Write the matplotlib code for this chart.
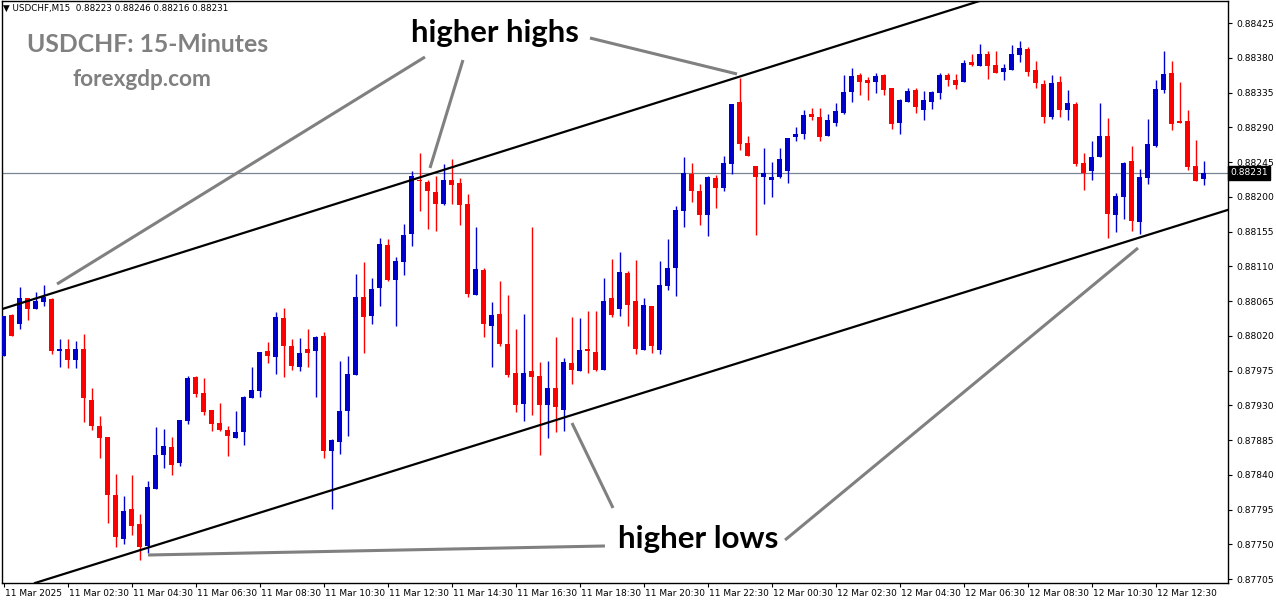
import matplotlib
matplotlib.use('Agg')
import matplotlib.pyplot as plt
import matplotlib.transforms as mtransforms

# USDCHF M15 candles
opens = [0.87994, 0.88047, 0.88035, 0.88069, 0.88055, 0.88064, 0.88068, 0.88001, 0.88003, 0.87989,
         0.88003, 0.87937, 0.87903, 0.87889, 0.87814, 0.87757, 0.87796, 0.87776, 0.87748, 0.87822,
         0.87866, 0.87876, 0.87856, 0.87910, 0.87967, 0.87946, 0.87924, 0.87907, 0.87898, 0.87888,
         0.87896, 0.87939, 0.87948, 0.88000, 0.87993, 0.88043, 0.88007, 0.87980, 0.88003, 0.88000,
         0.88020, 0.87871, 0.87882, 0.87923, 0.87970, 0.88070, 0.88046, 0.88082, 0.88138, 0.88093,
         0.88116, 0.88152, 0.88222, 0.88219, 0.88206, 0.88191, 0.88222, 0.88218, 0.88191, 0.88073,
         0.88105, 0.88033, 0.88048, 0.88010, 0.87972, 0.87932, 0.87975, 0.87968, 0.87931, 0.87952,
         0.87924, 0.87985, 0.87974, 0.88003, 0.87999, 0.87976, 0.88069, 0.88055, 0.88101, 0.88065,
         0.88002, 0.88059, 0.88002, 0.88085, 0.88108, 0.88182, 0.88230, 0.88208, 0.88177, 0.88225,
         0.88211, 0.88243, 0.88323, 0.88270, 0.88240, 0.88226, 0.88222, 0.88226, 0.88234, 0.88278,
         0.88281, 0.88307, 0.88304, 0.88279, 0.88296, 0.88309, 0.88336, 0.88358, 0.88351, 0.88349,
         0.88358, 0.88341, 0.88296, 0.88323, 0.88339, 0.88313, 0.88323, 0.88335, 0.88358, 0.88351,
         0.88349, 0.88375, 0.88370, 0.88385, 0.88371, 0.88362, 0.88364, 0.88384, 0.88392, 0.88364,
         0.88346, 0.88303, 0.88349, 0.88313, 0.88320, 0.88244, 0.88233, 0.88252, 0.88279, 0.88176,
         0.88200, 0.88247, 0.88168, 0.88224, 0.88266, 0.88338, 0.88361, 0.88298, 0.88298, 0.88240,
         0.88223]
highs = [0.88046, 0.88049, 0.88083, 0.88069, 0.88077, 0.88086, 0.88069, 0.88016, 0.88016, 0.88013,
         0.88022, 0.87953, 0.87916, 0.87889, 0.87841, 0.87813, 0.87840, 0.87789, 0.87832, 0.87902,
         0.87899, 0.87889, 0.87911, 0.87968, 0.87968, 0.87965, 0.87924, 0.87933, 0.87903, 0.87923,
         0.87942, 0.87980, 0.87999, 0.88012, 0.88051, 0.88056, 0.88016, 0.88017, 0.88029, 0.88020,
         0.88025, 0.87886, 0.87988, 0.87994, 0.88100, 0.88116, 0.88095, 0.88147, 0.88145, 0.88122,
         0.88165, 0.88234, 0.88257, 0.88222, 0.88227, 0.88243, 0.88249, 0.88225, 0.88204, 0.88161,
         0.88108, 0.88064, 0.88091, 0.88073, 0.88029, 0.88048, 0.88161, 0.87986, 0.87987, 0.88019,
         0.87991, 0.88044, 0.88043, 0.88052, 0.88052, 0.88095, 0.88120, 0.88129, 0.88104, 0.88118,
         0.88069, 0.88059, 0.88117, 0.88145, 0.88188, 0.88252, 0.88244, 0.88217, 0.88227, 0.88228,
         0.88253, 0.88320, 0.88354, 0.88279, 0.88240, 0.88263, 0.88245, 0.88263, 0.88276, 0.88291,
         0.88313, 0.88315, 0.88315, 0.88307, 0.88322, 0.88358, 0.88367, 0.88361, 0.88355, 0.88361,
         0.88359, 0.88341, 0.88327, 0.88341, 0.88341, 0.88337, 0.88337, 0.88361, 0.88361, 0.88359,
         0.88377, 0.88385, 0.88398, 0.88389, 0.88389, 0.88372, 0.88397, 0.88402, 0.88394, 0.88376,
         0.88351, 0.88358, 0.88357, 0.88339, 0.88323, 0.88257, 0.88272, 0.88322, 0.88302, 0.88205,
         0.88245, 0.88266, 0.88236, 0.88301, 0.88351, 0.88389, 0.88376, 0.88349, 0.88313, 0.88274,
         0.88246]
lows = [0.87994, 0.88020, 0.88029, 0.88040, 0.88055, 0.88059, 0.87996, 0.87980, 0.87979, 0.87979,
        0.87908, 0.87898, 0.87862, 0.87778, 0.87747, 0.87750, 0.87762, 0.87730, 0.87739, 0.87822,
        0.87849, 0.87840, 0.87851, 0.87906, 0.87941, 0.87917, 0.87897, 0.87897, 0.87865, 0.87888,
        0.87879, 0.87939, 0.87941, 0.87985, 0.87971, 0.87967, 0.87976, 0.87975, 0.87980, 0.87941,
        0.87862, 0.87796, 0.87867, 0.87891, 0.87969, 0.87998, 0.88035, 0.88059, 0.88091, 0.88033,
        0.88099, 0.88137, 0.88182, 0.88159, 0.88156, 0.88189, 0.88191, 0.88164, 0.88071, 0.88073,
        0.88018, 0.87980, 0.88007, 0.87967, 0.87921, 0.87910, 0.87917, 0.87866, 0.87888, 0.87896,
        0.87897, 0.87958, 0.87974, 0.87972, 0.87974, 0.87976, 0.88044, 0.88046, 0.88033, 0.87997,
        0.88002, 0.87998, 0.87997, 0.88080, 0.88072, 0.88161, 0.88194, 0.88164, 0.88150, 0.88186,
        0.88208, 0.88230, 0.88261, 0.88253, 0.88151, 0.88191, 0.88200, 0.88225, 0.88218, 0.88273,
        0.88275, 0.88300, 0.88273, 0.88279, 0.88292, 0.88308, 0.88323, 0.88332, 0.88326, 0.88335,
        0.88332, 0.88288, 0.88282, 0.88323, 0.88309, 0.88300, 0.88314, 0.88327, 0.88344, 0.88340,
        0.88349, 0.88369, 0.88369, 0.88353, 0.88360, 0.88351, 0.88364, 0.88375, 0.88357, 0.88341,
        0.88296, 0.88301, 0.88303, 0.88299, 0.88240, 0.88209, 0.88222, 0.88252, 0.88147, 0.88154,
        0.88172, 0.88156, 0.88152, 0.88217, 0.88265, 0.88335, 0.88287, 0.88296, 0.88235, 0.88221,
        0.88216]
closes = [0.88046, 0.88020, 0.88069, 0.88055, 0.88065, 0.88070, 0.88001, 0.88003, 0.87989, 0.88003,
          0.87939, 0.87903, 0.87888, 0.87814, 0.87760, 0.87793, 0.87774, 0.87747, 0.87824, 0.87866,
          0.87878, 0.87853, 0.87911, 0.87965, 0.87945, 0.87922, 0.87906, 0.87898, 0.87891, 0.87896,
          0.87941, 0.87950, 0.87999, 0.87994, 0.88044, 0.88007, 0.87981, 0.87998, 0.87998, 0.88019,
          0.87871, 0.87885, 0.87923, 0.87971, 0.88070, 0.88045, 0.88081, 0.88139, 0.88093, 0.88117,
          0.88151, 0.88227, 0.88220, 0.88207, 0.88191, 0.88222, 0.88216, 0.88189, 0.88074, 0.88107,
          0.88035, 0.88047, 0.88009, 0.87970, 0.87930, 0.87972, 0.87967, 0.87930, 0.87953, 0.87928,
          0.87986, 0.87976, 0.88002, 0.88000, 0.87976, 0.88065, 0.88047, 0.88103, 0.88060, 0.88003,
          0.88060, 0.88007, 0.88086, 0.88108, 0.88183, 0.88231, 0.88208, 0.88176, 0.88226, 0.88212,
          0.88244, 0.88320, 0.88269, 0.88253, 0.88226, 0.88231, 0.88226, 0.88249, 0.88276, 0.88282,
          0.88306, 0.88303, 0.88278, 0.88300, 0.88311, 0.88336, 0.88357, 0.88349, 0.88348, 0.88357,
          0.88339, 0.88295, 0.88326, 0.88337, 0.88317, 0.88326, 0.88336, 0.88358, 0.88352, 0.88345,
          0.88373, 0.88371, 0.88385, 0.88369, 0.88361, 0.88367, 0.88385, 0.88393, 0.88362, 0.88347,
          0.88304, 0.88348, 0.88312, 0.88322, 0.88243, 0.88231, 0.88252, 0.88279, 0.88178, 0.88201,
          0.88244, 0.88169, 0.88226, 0.88269, 0.88340, 0.88359, 0.88295, 0.88296, 0.88239, 0.88221,
          0.88231]

price_ticks = [0.87705, 0.87750, 0.87795, 0.87840, 0.87885, 0.87930, 0.87975, 0.88020, 0.88065,
               0.88110, 0.88155, 0.88200, 0.88245, 0.88290, 0.88335, 0.88380, 0.88425]
time_ticks = [0, 8, 16, 24, 32, 40, 48, 56, 64, 72, 80, 88, 96, 104, 112, 120, 128, 136, 144]
time_labels = ['11 Mar 2025', '11 Mar 02:30', '11 Mar 04:30', '11 Mar 06:30', '11 Mar 08:30',
               '11 Mar 10:30', '11 Mar 12:30', '11 Mar 14:30', '11 Mar 16:30', '11 Mar 18:30',
               '11 Mar 20:30', '11 Mar 22:30', '12 Mar 00:30', '12 Mar 02:30', '12 Mar 04:30',
               '12 Mar 06:30', '12 Mar 08:30', '12 Mar 10:30', '12 Mar 12:30']

# channel lines, (candle index, price) anchor pairs
upper_channel = [(-0.1, 0.88055), (93.3, 0.88360)]
lower_channel = [(13.2, 0.87730), (153.3, 0.88184)]

bull_col = '#0000cc'
bear_col = '#ff0000'
grey = '#808080'

fig = plt.figure(figsize=(12.76, 6.04), dpi=100)
ax = fig.add_axes([2 / 1276, 21 / 604, 1226 / 1276, 582 / 604])

xs = list(range(len(opens)))
cols = [bull_col if c >= o else bear_col for o, c in zip(opens, closes)]
bottoms = [min(o, c) for o, c in zip(opens, closes)]
heights = [max(abs(c - o), 0.000013) for o, c in zip(opens, closes)]

ax.axhline(closes[-1], color='#7a8594', lw=0.9, zorder=1)
ax.vlines(xs, lows, highs, colors=cols, lw=1.0, zorder=2)
ax.bar(xs, heights, bottom=bottoms, width=0.62, color=cols, lw=0, zorder=3)

ax.axline(upper_channel[0], upper_channel[1], color='black', lw=1.6, zorder=4)
ax.axline(lower_channel[0], lower_channel[1], color='black', lw=1.6, zorder=4)

ax.set_xlim(-0.1875, 153.06)
ax.set_ylim(0.87700, 0.884537)

# axes styling similar to the MT4 terminal
for s in ax.spines.values():
    s.set_color('black')
    s.set_linewidth(1.0)
ax.yaxis.tick_right()
ax.set_yticks(price_ticks)
ax.set_yticklabels(['%.5f' % p for p in price_ticks])
ax.tick_params(axis='y', direction='out', length=3, width=0.8, pad=3, labelsize=6.6)
ax.set_xticks(time_ticks)
ax.set_xticklabels(time_labels, ha='left')
ax.tick_params(axis='x', direction='out', length=3, width=0.8, pad=1.5, labelsize=6.5)
shift = mtransforms.ScaledTranslation(1 / 100, 0, fig.dpi_scale_trans)
for lab in ax.get_xticklabels():
    lab.set_transform(lab.get_transform() + shift)

# current price tag
blend = mtransforms.blended_transform_factory(ax.transAxes, ax.transData)
ax.text(1.002, closes[-1], '%.5f' % closes[-1], transform=blend, ha='left', va='center',
        fontsize=6.6, color='white',
        bbox=dict(facecolor='black', edgecolor='black', boxstyle='square,pad=0.25'))

# header line
fig.text(3 / 1276, 1 - 8 / 604, '\u25bc USDCHF,M15  %.5f %.5f %.5f %.5f' %
         (opens[-1], highs[-1], lows[-1], closes[-1]),
         ha='left', va='center', fontsize=6.3, color='black')
fig.text(148 / 1276, 1 - 44 / 604, 'USDCHF: 15-Minutes', ha='center', va='center',
         fontsize=17.8, fontweight='bold', color=grey, family='Lato')
fig.text(142 / 1276, 1 - 80 / 604, 'forexgdp.com', ha='center', va='center',
         fontsize=16.3, fontweight='bold', color=grey, family='Lato')

# pointer lines (axes fractions)
pointers = [
    [(0.3450, 0.9038), (0.0449, 0.5137)],
    [(0.3760, 0.8986), (0.3491, 0.7131)],
    [(0.4796, 0.9364), (0.5995, 0.8746)],
    [(0.1191, 0.0481), (0.4918, 0.0636)],
    [(0.4649, 0.2749), (0.4984, 0.1289)],
    [(0.6387, 0.0739), (0.9266, 0.5756)],
]
for (x0, y0), (x1, y1) in pointers:
    ax.plot([x0, x1], [y0, y1], transform=ax.transAxes, color=grey, lw=2.2,
            solid_capstyle='butt', zorder=5, clip_on=False)

ax.text(0.4021, 0.9450, 'higher highs', transform=ax.transAxes, ha='center', va='center',
        fontsize=22.3, fontweight='bold', color='black', family='Lato', zorder=6)
ax.text(0.5677, 0.0756, 'higher lows', transform=ax.transAxes, ha='center', va='center',
        fontsize=22.5, fontweight='bold', color='black', family='Lato', zorder=6)

fig.savefig('out.png', dpi=100, facecolor='white')
